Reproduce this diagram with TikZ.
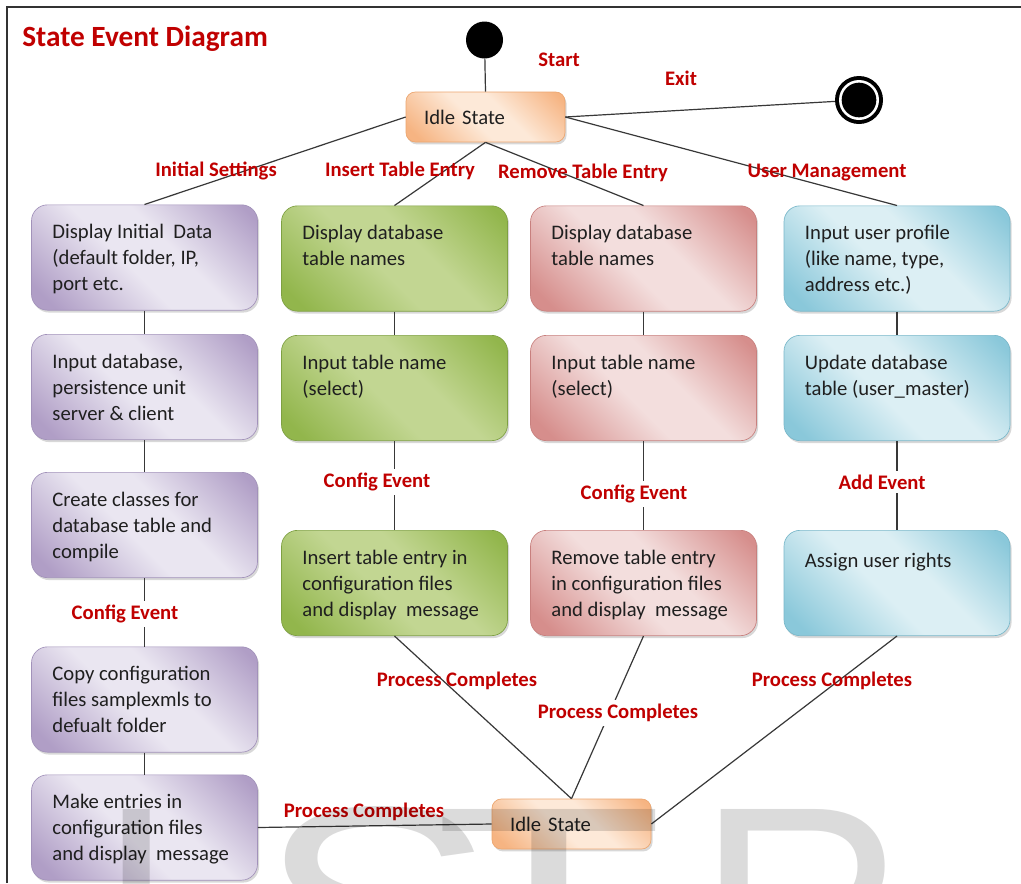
\documentclass[tikz,border=0pt]{standalone}
\usepackage{fontspec}
\setmainfont{Carlito}
\newfontfamily\wmfont{Liberation Sans}
\usetikzlibrary{shadows}

% palette
\definecolor{labred}{RGB}{192,0,0}
\definecolor{puD}{RGB}{176,158,198}
\definecolor{puL}{RGB}{234,230,241}
\definecolor{puB}{RGB}{162,146,186}
\definecolor{grD}{RGB}{146,182,76}
\definecolor{grL}{RGB}{194,214,146}
\definecolor{grB}{RGB}{126,160,66}
\definecolor{rdD}{RGB}{214,142,140}
\definecolor{rdL}{RGB}{243,222,221}
\definecolor{rdB}{RGB}{200,128,126}
\definecolor{blD}{RGB}{138,200,218}
\definecolor{blL}{RGB}{220,239,244}
\definecolor{blB}{RGB}{122,184,202}
\definecolor{orD}{RGB}{246,180,130}
\definecolor{orL}{RGB}{253,233,216}
\definecolor{orB}{RGB}{236,166,112}

% diagonal glow fills
\pgfdeclarehorizontalshading{puShade}{100bp}{color(0bp)=(puD); color(20bp)=(puD); color(45bp)=(puL); color(58bp)=(puL); color(82bp)=(puD); color(100bp)=(puD)}
\pgfdeclarehorizontalshading{grShade}{100bp}{color(0bp)=(grD); color(20bp)=(grD); color(45bp)=(grL); color(58bp)=(grL); color(82bp)=(grD); color(100bp)=(grD)}
\pgfdeclarehorizontalshading{rdShade}{100bp}{color(0bp)=(rdD); color(20bp)=(rdD); color(45bp)=(rdL); color(58bp)=(rdL); color(82bp)=(rdD); color(100bp)=(rdD)}
\pgfdeclarehorizontalshading{blShade}{100bp}{color(0bp)=(blD); color(20bp)=(blD); color(45bp)=(blL); color(58bp)=(blL); color(82bp)=(blD); color(100bp)=(blD)}
\pgfdeclarehorizontalshading{orShade}{100bp}{color(0bp)=(orD); color(20bp)=(orD); color(45bp)=(orL); color(58bp)=(orL); color(82bp)=(orD); color(100bp)=(orD)}

\tikzset{
  conn/.style={draw=black!78, line width=0.9pt},
  sbox/.style={rectangle, rounded corners=12pt, minimum width=169.5pt,
    minimum height=79pt, inner sep=0pt, draw=#1B, line width=0.5pt,
    shading=#1Shade, shading angle=45,
    drop shadow={shadow xshift=1.2pt, shadow yshift=-1.8pt, opacity=0.3}},
  btext/.style={anchor=north west, inner sep=0pt, align=left,
    font=\fontsize{15.5}{19.5}\selectfont, text=black!88,
    execute at begin node=\strut},
  idlebox/.style={sbox=or, minimum width=119.25pt, minimum height=37.5pt,
    rounded corners=7pt, text width=92pt, align=left, inner xsep=13.6pt,
    font=\fontsize{15.5}{19.5}\selectfont, text=black!88},
  evt/.style={font=\bfseries\fontsize{15.5}{18}\selectfont, text=labred, inner sep=1pt},
  evtw/.style={evt, fill=white, inner sep=3pt},
  wm/.style={anchor=base west, inner sep=0pt,
    font=\wmfont\fontsize{217}{217}\selectfont, text=black, text opacity=0.14},
}

\begin{document}
\begin{tikzpicture}[x=0.75pt, y=-0.75pt]
\useasboundingbox (0,0) rectangle (1021,883);
\fill[white] (0,0) rectangle (1021,883);

% frame
\draw[line width=1.5pt, black!80] (7,883) -- (7,7) -- (1021,7);

% title
\node[anchor=base west, inner sep=0pt, font=\bfseries\fontsize{22}{26}\selectfont, text=labred] (title) at (22,46) {State Event Diagram};

% start / end pseudo states
\node[circle, fill=black, minimum size=27.75pt, inner sep=0pt] (start) at (484.5,40) {};
\node[circle, fill=black, minimum size=36pt, inner sep=0pt] (end) at (859,100) {};
\fill[white] (end.center) circle (15pt);
\fill[black] (end.center) circle (13pt);

% idle states
\node[idlebox] (idle1) at (485.5,117) {Idle State};
\node[idlebox] (idle2) at (571.5,824) {Idle State};

% initial settings column
\node[sbox=pu] (p1) at (144.5,257.5) {};
\node[sbox=pu] (p2) at (144.5,387) {};
\node[sbox=pu] (p3) at (144.5,525) {};
\node[sbox=pu] (p4) at (144.5,699.5) {};
\node[sbox=pu] (p5) at (144.5,827.5) {};
\node[btext] (p1t) at ([xshift=15.75pt,yshift=-14.6pt]p1.north west) {Display Initial~ Data\\(default folder, IP,\\port etc.};
\node[btext] (p2t) at ([xshift=15.75pt,yshift=-14.6pt]p2.north west) {Input database,\\persistence unit\\server \& client};
\node[btext] (p3t) at ([xshift=15.75pt,yshift=-14.6pt]p3.north west) {Create classes for\\database table and\\compile};
\node[btext] (p4t) at ([xshift=15.75pt,yshift=-14.6pt]p4.north west) {Copy configuration\\files samplexmls to\\defualt folder};
\node[btext] (p5t) at ([xshift=15.75pt,yshift=-14.6pt]p5.north west) {Make entries in\\configuration files\\and display~ message};

% insert column
\node[sbox=gr] (g1) at (394.5,258.5) {};
\node[sbox=gr] (g2) at (394.5,388) {};
\node[sbox=gr] (g3) at (394.5,583) {};
\node[btext] (g1t) at ([xshift=15.75pt,yshift=-14.6pt]g1.north west) {Display database\\table names};
\node[btext] (g2t) at ([xshift=15.75pt,yshift=-14.6pt]g2.north west) {Input table name\\(select)};
\node[btext] (g3t) at ([xshift=15.75pt,yshift=-14.6pt]g3.north west) {Insert table entry in\\configuration files\\and display~ message};

% remove column
\node[sbox=rd] (r1) at (643.5,258.5) {};
\node[sbox=rd] (r2) at (643.5,388) {};
\node[sbox=rd] (r3) at (643.5,583) {};
\node[btext] (r1t) at ([xshift=15.75pt,yshift=-14.6pt]r1.north west) {Display database\\table names};
\node[btext] (r2t) at ([xshift=15.75pt,yshift=-14.6pt]r2.north west) {Input table name\\(select)};
\node[btext] (r3t) at ([xshift=15.75pt,yshift=-14.6pt]r3.north west) {Remove table entry\\in configuration files\\and display~ message};

% user management column
\node[sbox=bl] (b1) at (897,258.5) {};
\node[sbox=bl] (b2) at (897,388) {};
\node[sbox=bl] (b3) at (897,583) {};
\node[btext] (b1t) at ([xshift=15.75pt,yshift=-14.6pt]b1.north west) {Input user profile\\(like name, type,\\address etc.)};
\node[btext] (b2t) at ([xshift=15.75pt,yshift=-14.6pt]b2.north west) {Update database\\table (user\_master)};
\node[btext] (b3t) at ([xshift=15.75pt,yshift=-14.6pt]b3.north west) {Assign user rights};

% transitions
\draw[conn] (start) -- (idle1.north);
\draw[conn] (idle1.east) -- (end);
\draw[conn] (idle1.west) -- (p1.north);
\draw[conn] (idle1.south) -- (g1.north);
\draw[conn] (idle1.south) -- (r1.north);
\draw[conn] (idle1.east) -- (b1.north);

\draw[conn] (p1.south) -- (p2.north);
\draw[conn] (p2.south) -- (p3.north);
\draw[conn] (p3.south) -- (p4.north);
\draw[conn] (p4.south) -- (p5.north);
\draw[conn] (g1.south) -- (g2.north);
\draw[conn] (g2.south) -- (g3.north);
\draw[conn] (r1.south) -- (r2.north);
\draw[conn] (r2.south) -- (r3.north);
\draw[conn] (b1.south) -- (b2.north);
\draw[conn] (b2.south) -- (b3.north);

\draw[conn] (g3.south) -- (idle2.north);
\draw[conn] (r3.south) -- (idle2.north);
\draw[conn] (b3.south) -- (idle2.east);
\draw[conn] (p5.east) -- (idle2.west);

% event labels
\node[evt] (lStart) at (559,60) {Start};
\node[evt] (lExit) at (681,78) {Exit};
\node[evt] (lInit) at (216,171) {Initial Settings};
\node[evt] (lIns) at (400,171) {Insert Table Entry};
\node[evt] (lRem) at (583,173) {Remove Table Entry};
\node[evt] (lUsr) at (827,173) {User Management};
\node[evtw] (cfgP) at (125,614) {Config Event};
\node[evtw] (cfgG) at (377,482) {Config Event};
\node[evtw] (cfgR) at (634,494) {Config Event};
\node[evtw] (addB) at (882,482) {Add Event};
\node[evt] (pcG) at (457,681) {Process Completes};
\node[evtw] (pcR) at (618,713) {Process Completes};
\node[evt] (pcB) at (832,681) {Process Completes};
\node[evt] (pcP) at (364,812) {Process Completes};

% watermark lettering along the bottom edge
\begin{scope}
\clip (0,0) rectangle (1021,883);
\node[wm] (wmI) at (96,1008) {I};
\node[wm] (wmS) at (257,1008) {\scalebox{1.24}[1]{S}};
\node[wm] (wmT) at (434,1008) {\scalebox{1.3}[1]{T}};
\node[wm] (wmR) at (697,1008) {R};
\end{scope}
\end{tikzpicture}
\end{document}
